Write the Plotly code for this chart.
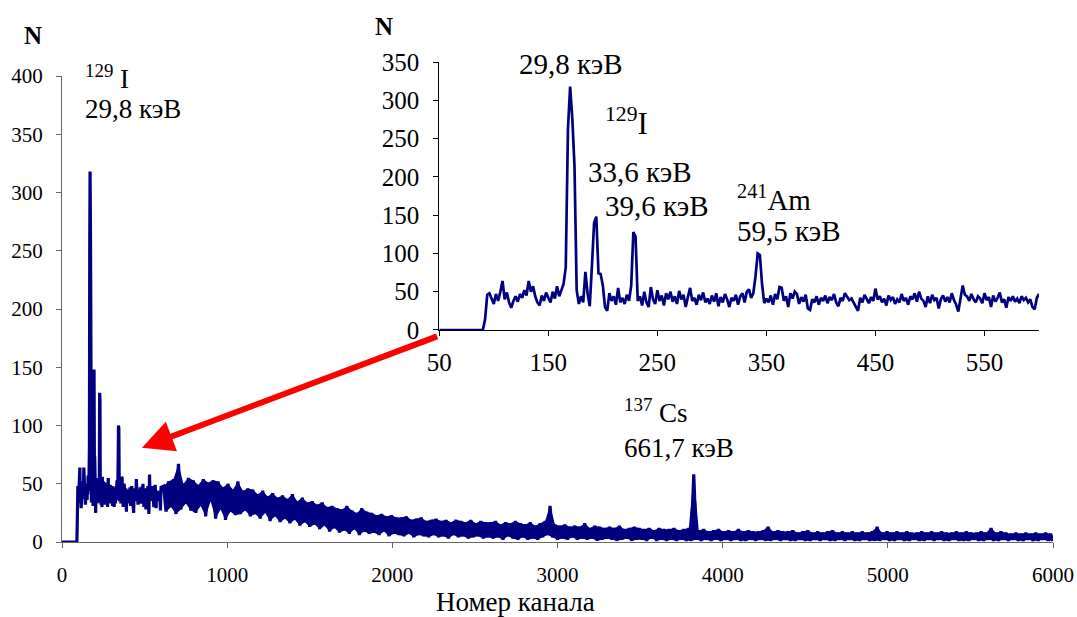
import plotly.graph_objects as go

# ---------------- data ----------------
# Inset: channels 50..600, step 2
inset_channels = list(range(50, 601, 2))
inset_counts = [
    0, 0, 0, 0, 0, 0, 0, 0, 0, 0,            # 50-68
    0, 0, 0, 0, 0, 0, 0, 0, 0, 0,            # 70-88
    0, 14, 46, 48, 42, 34, 47, 38, 50, 64,   # 90-108
    40, 49, 36, 29, 38, 44, 37, 47, 42, 52,  # 110-128
    45, 64, 50, 57, 44, 36, 32, 45, 38, 49,  # 130-148
    42, 36, 50, 41, 57, 44, 52, 60, 82, 262, # 150-168
    318, 276, 214, 52, 34, 44, 36, 76, 48, 31,  # 170-188
    84, 140, 148, 74, 73, 58, 30, 25, 48, 38,   # 190-208
    44, 33, 55, 36, 42, 34, 46, 38, 58, 128,    # 210-228
    122, 38, 44, 32, 50, 36, 30, 56, 40, 34,    # 230-248
    52, 38, 45, 32, 48, 40, 50, 37, 44, 34,     # 250-268
    51, 40, 46, 30, 43, 55, 38, 42, 33, 46,     # 270-288
    39, 49, 36, 41, 34, 45, 37, 48, 31, 43,     # 290-308
    36, 47, 40, 30, 42, 38, 46, 33, 44, 48,     # 310-328
    36, 50, 53, 42, 48, 70, 100, 98, 60, 35,    # 330-348
    41, 36, 45, 33, 47, 40, 56, 55, 38, 44,     # 350-368
    30, 48, 41, 50, 47, 34, 43, 37, 46, 28,     # 370-388
    26, 40, 36, 44, 33, 42, 38, 45, 35, 43,     # 390-408
    39, 47, 36, 31, 42, 38, 48, 44, 39, 41,     # 410-428
    36, 30, 25, 42, 36, 46, 40, 35, 43, 38,     # 430-448
    54, 40, 44, 36, 41, 32, 45, 39, 43, 34,     # 450-468
    40, 36, 47, 38, 42, 33, 44, 40, 48, 37,     # 470-488
    50, 41, 38, 30, 44, 35, 46, 39, 42, 28,     # 490-508
    40, 45, 37, 43, 36, 48, 39, 33, 24, 40,     # 510-528
    58, 46, 44, 38, 47, 40, 36, 44, 41, 35,     # 530-548
    48, 39, 43, 30, 45, 37, 42, 49, 36, 40,     # 550-568
    29, 43, 38, 44, 37, 41, 35, 44, 39, 42,     # 570-588
    36, 40, 30, 27, 42, 47,                     # 590-600
]

# Main spectrum beyond channel 600: channels 615..6000, step 15
# (values alternate between the upper and lower edge of the noisy band)
tail_channels = list(range(615, 6001, 15))
tail_counts = [
    48, 26, 52, 30, 54, 24, 67, 28, 50, 33, 55, 27,
    53, 25, 49, 31, 54, 22, 51, 35, 53, 20, 52, 28,
    47, 19, 50, 26, 45, 23, 52, 24, 44, 27, 46, 22,
    45, 24, 41, 20, 44, 25, 39, 18, 42, 22, 38, 17,
    40, 20, 37, 16, 41, 19, 35, 14, 38, 17, 34, 13,
    35, 15, 32, 11, 34, 14, 30, 9, 31, 12, 29, 8,
    28, 10, 31, 7, 27, 11, 25, 6, 29, 9, 26, 7,
    25, 8, 23, 6, 24, 9, 22, 5, 23, 7, 21, 6,
    21, 5, 22, 7, 19, 4, 20, 6, 21, 5, 18, 4,
    19, 6, 20, 4, 18, 5, 19, 3, 17, 6, 19, 4,
    18, 5, 17, 3, 19, 4, 16, 5, 18, 3, 17, 4,
    17, 3, 18, 4, 15, 2, 17, 5, 16, 3, 18, 2,
    16, 4, 15, 2, 17, 3, 14, 2, 16, 4, 18, 6,
    31, 4, 15, 2, 14, 3, 15, 2, 13, 4, 14, 2,
    13, 3, 16, 2, 12, 3, 14, 1, 13, 2, 12, 3,
    13, 2, 12, 1, 14, 2, 11, 3, 12, 1, 13, 2,
    12, 2, 11, 1, 12, 3, 10, 1, 12, 2, 11, 1,
    11, 2, 12, 1, 10, 2, 11, 1, 12, 1, 58, 2,
    10, 1, 11, 2, 9, 1, 10, 2, 11, 1, 9, 2,
    10, 1, 9, 2, 11, 1, 9, 1, 10, 2, 9, 1,
    9, 2, 10, 1, 13, 1, 9, 2, 10, 1, 9, 2,
    9, 1, 10, 1, 8, 2, 9, 1, 10, 1, 8, 2,
    9, 1, 8, 2, 9, 1, 10, 1, 8, 2, 9, 1,
    8, 2, 9, 1, 8, 1, 9, 2, 8, 1, 9, 1,
    13, 1, 8, 2, 9, 1, 8, 1, 9, 2, 8, 1,
    9, 1, 8, 2, 8, 1, 9, 1, 8, 2, 9, 1,
    8, 2, 9, 1, 8, 1, 8, 2, 9, 1, 8, 1,
    9, 1, 8, 2, 8, 1, 9, 1, 8, 2, 12, 1,
    8, 1, 9, 2, 8, 1, 7, 2, 8, 1, 7, 1,
    8, 2, 7, 1, 8, 1, 7, 2, 8, 1, 7, 1,
]

main_channels = [0] + inset_channels + tail_channels
main_counts = [0] + inset_counts + tail_counts

# upper / lower edges of the noisy band (every other value of the tail)
band_upper_x, band_upper_y = tail_channels[0::2], tail_counts[0::2]
band_lower_x, band_lower_y = tail_channels[1::2], tail_counts[1::2]

main_xticks = [0, 1000, 2000, 3000, 4000, 5000, 6000]
main_yticks = [0, 50, 100, 150, 200, 250, 300, 350, 400]
inset_xticks = [50, 150, 250, 350, 450, 550]
inset_yticks = [0, 50, 100, 150, 200, 250, 300, 350]

# ---------------- figure ----------------
FONT = "Liberation Serif"
NAVY = "#000080"

fig = go.Figure()
# filled body of the noisy band
fig.add_trace(go.Scatter(x=band_lower_x, y=band_lower_y, mode="lines",
                         line=dict(color=NAVY, width=0), xaxis="x", yaxis="y",
                         hoverinfo="skip", showlegend=False))
fig.add_trace(go.Scatter(x=band_upper_x, y=band_upper_y, mode="lines",
                         line=dict(color=NAVY, width=0), fill="tonexty", fillcolor=NAVY,
                         xaxis="x", yaxis="y", hoverinfo="skip", showlegend=False))
# the spectrum line itself
fig.add_trace(go.Scatter(x=main_channels, y=main_counts, mode="lines",
                         line=dict(color=NAVY, width=3.2), xaxis="x", yaxis="y",
                         hoverinfo="skip", showlegend=False))
fig.add_trace(go.Scatter(x=inset_channels, y=inset_counts, mode="lines",
                         line=dict(color=NAVY, width=2.7), xaxis="x2", yaxis="y2",
                         hoverinfo="skip", showlegend=False))

axis_common = dict(showgrid=False, zeroline=False, showline=True, ticks="outside",
                   ticklen=5, layer="below traces", automargin=False)

fig.update_layout(
    width=1077, height=617, autosize=False,
    margin=dict(l=62, r=24, t=62, b=75, autoexpand=False),
    paper_bgcolor="white", plot_bgcolor="rgba(0,0,0,0)",
    font=dict(family=FONT, color="black"),
    showlegend=False,
    xaxis=dict(domain=[0, 1], range=[0, 6000], tickvals=main_xticks, anchor="y",
               linecolor="#666666", tickcolor="#666666", ticklabelstandoff=9,
               tickfont=dict(family=FONT, size=21, color="black"), **axis_common),
    yaxis=dict(domain=[0, 466 / 480], range=[0, 400], tickvals=main_yticks, anchor="x",
               linecolor="#666666", tickcolor="#666666", ticklabelstandoff=9,
               tickfont=dict(family=FONT, size=21, color="black"), **axis_common),
    xaxis2=dict(domain=[0.3807, 0.9859], range=[50, 600], tickvals=inset_xticks, anchor="y2",
                linecolor="black", tickcolor="black", ticklabelstandoff=5,
                tickfont=dict(family=FONT, size=25, color="black"), **axis_common),
    yaxis2=dict(domain=[0.4417, 1.0], range=[0, 350], tickvals=inset_yticks, anchor="x2",
                linecolor="black", tickcolor="black", ticklabelstandoff=9,
                tickfont=dict(family=FONT, size=25, color="black"), **axis_common),
)

def label(text, x, y, size, xanchor="left", bold=False):
    fig.add_annotation(text=("<b>%s</b>" % text) if bold else text,
                       x=x, y=y, xref="paper", yref="paper",
                       xanchor=xanchor, yanchor="middle", showarrow=False,
                       font=dict(family=FONT, size=size, color="black"))

# main chart texts
label("N", -0.0293, 1.056, 25, xanchor="center", bold=True)
label("<sup>129</sup> I", 0.0212, 0.969, 27)
label("29,8 кэВ", 0.0212, 0.902, 27)
label("<sup>137</sup> Cs", 0.565, 0.273, 27)
label("661,7 кэВ", 0.565, 0.196, 27)
label("Номер канала", 0.458, -0.125, 27, xanchor="center")

# inset texts
label("N", 0.325, 1.075, 25, xanchor="center", bold=True)
label("29,8 кэВ", 0.459, 0.996, 29)
label("<sup>129</sup>I", 0.546, 0.877, 31)
label("33,6 кэВ", 0.5288, 0.771, 29)
label("39,6 кэВ", 0.546, 0.70, 29)
label("<sup>241</sup>Am", 0.679, 0.716, 29)
label("59,5 кэВ", 0.679, 0.648, 29)

# red arrow from the inset corner to the low-energy part of the spectrum
fig.add_annotation(x=484, y=81, xref="x", yref="y",
                   ax=2280, ay=177, axref="x", ayref="y",
                   text="", showarrow=True, arrowhead=2, arrowsize=1.05,
                   arrowwidth=6, arrowcolor="#ff0000", standoff=0)

fig.write_html("out.html",
               config={"displayModeBar": False, "responsive": False},
               post_script="document.body.style.margin='0px';"
                           "document.body.style.overflow='hidden';"
                           "document.documentElement.style.overflow='hidden';")
